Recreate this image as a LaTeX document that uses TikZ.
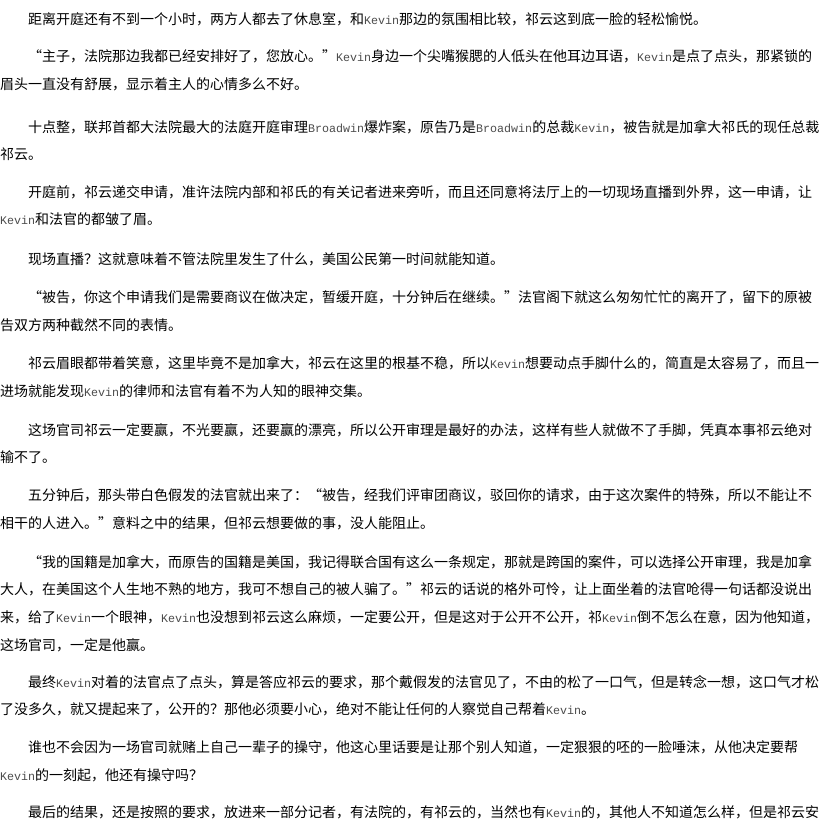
\documentclass[tikz,border=0pt]{standalone}
\usepackage{fontspec}
\setmainfont{Noto Sans CJK SC}[RawFeature=+fwid]
\newfontfamily\latinmono{Liberation Mono}
\newcommand{\latn}[1]{{\fontsize{11.67pt}{14pt}\latinmono\color{black!70}#1}}
\usepackage{tikz}
\tikzset{txtline/.style={anchor=base west, inner sep=0pt, font=\fontsize{14pt}{16pt}\selectfont}}
\tikzset{firstline/.style={txtline, xshift=28pt}}

\begin{document}
\begin{tikzpicture}[x=1pt, y=-1pt]
    \fill[white] (0, 0) rectangle (835, 829);
    \useasboundingbox (0, 0) rectangle (835, 829);
    % first paragraphs
    \node[firstline] (l1) at (0, 25) {距离开庭还有不到一个小时，两方人都去了休息室，和\latn{Kevin}那边的氛围相比较，祁云这到底一脸的轻松愉悦。};
    \node[firstline] (l2) at (0, 62) {“主子，法院那边我都已经安排好了，您放心。”\latn{Kevin}身边一个尖嘴猴腮的人低头在他耳边耳语，\latn{Kevin}是点了点头，那紧锁的};
    \node[txtline] (l3) at (0, 90) {眉头一直没有舒展，显示着主人的心情多么不好。};
    \node[firstline] (l4) at (0, 133) {十点整，联邦首都大法院最大的法庭开庭审理\latn{Broadwin}爆炸案，原告乃是\latn{Broadwin}的总裁\latn{Kevin}，被告就是加拿大祁氏的现任总裁};
    \node[txtline] (l5) at (0, 160) {祁云。};
    \node[firstline] (l6) at (0, 198) {开庭前，祁云递交申请，准许法院内部和祁氏的有关记者进来旁听，而且还同意将法厅上的一切现场直播到外界，这一申请，让};
    \node[txtline] (l7) at (0, 225) {\latn{Kevin}和法官的都皱了眉。};
    \node[firstline] (l8) at (0, 264) {现场直播？这就意味着不管法院里发生了什么，美国公民第一时间就能知道。};
    \node[firstline] (l9) at (0, 302) {“被告，你这个申请我们是需要商议在做决定，暂缓开庭，十分钟后在继续。”法官阁下就这么匆匆忙忙的离开了，留下的原被};
    \node[txtline] (l10) at (0, 330) {告双方两种截然不同的表情。};
    \node[firstline] (l11) at (0, 368) {祁云眉眼都带着笑意，这里毕竟不是加拿大，祁云在这里的根基不稳，所以\latn{Kevin}想要动点手脚什么的，简直是太容易了，而且一};
    \node[txtline] (l12) at (0, 396) {进场就能发现\latn{Kevin}的律师和法官有着不为人知的眼神交集。};
    \node[firstline] (l13) at (0, 435) {这场官司祁云一定要赢，不光要赢，还要赢的漂亮，所以公开审理是最好的办法，这样有些人就做不了手脚，凭真本事祁云绝对};
    \node[txtline] (l14) at (0, 462) {输不了。};
    % the judge comes back
    \node[firstline] (l15) at (0, 500) {五分钟后，那头带白色假发的法官就出来了：“被告，经我们评审团商议，驳回你的请求，由于这次案件的特殊，所以不能让不};
    \node[txtline] (l16) at (0, 528) {相干的人进入。”意料之中的结果，但祁云想要做的事，没人能阻止。};
    \node[firstline] (l17) at (0, 567) {“我的国籍是加拿大，而原告的国籍是美国，我记得联合国有这么一条规定，那就是跨国的案件，可以选择公开审理，我是加拿};
    \node[txtline] (l18) at (0, 594) {大人，在美国这个人生地不熟的地方，我可不想自己的被人骗了。”祁云的话说的格外可怜，让上面坐着的法官呛得一句话都没说出};
    \node[txtline] (l19) at (0, 622) {来，给了\latn{Kevin}一个眼神，\latn{Kevin}也没想到祁云这么麻烦，一定要公开，但是这对于公开不公开，祁\latn{Kevin}倒不怎么在意，因为他知道，};
    \node[txtline] (l20) at (0, 650) {这场官司，一定是他赢。};
    \node[firstline] (l21) at (0, 687) {最终\latn{Kevin}对着的法官点了点头，算是答应祁云的要求，那个戴假发的法官见了，不由的松了一口气，但是转念一想，这口气才松};
    \node[txtline] (l22) at (0, 714) {了没多久，就又提起来了，公开的？那他必须要小心，绝对不能让任何的人察觉自己帮着\latn{Kevin}。};
    \node[firstline] (l23) at (0, 752) {谁也不会因为一场官司就赌上自己一辈子的操守，他这心里话要是让那个别人知道，一定狠狠的呸的一脸唾沫，从他决定要帮};
    \node[txtline] (l24) at (0, 780) {\latn{Kevin}的一刻起，他还有操守吗？};
    \node[firstline] (l25) at (0, 817) {最后的结果，还是按照的要求，放进来一部分记者，有法院的，有祁云的，当然也有\latn{Kevin}的，其他人不知道怎么样，但是祁云安};
\end{tikzpicture}
\end{document}
